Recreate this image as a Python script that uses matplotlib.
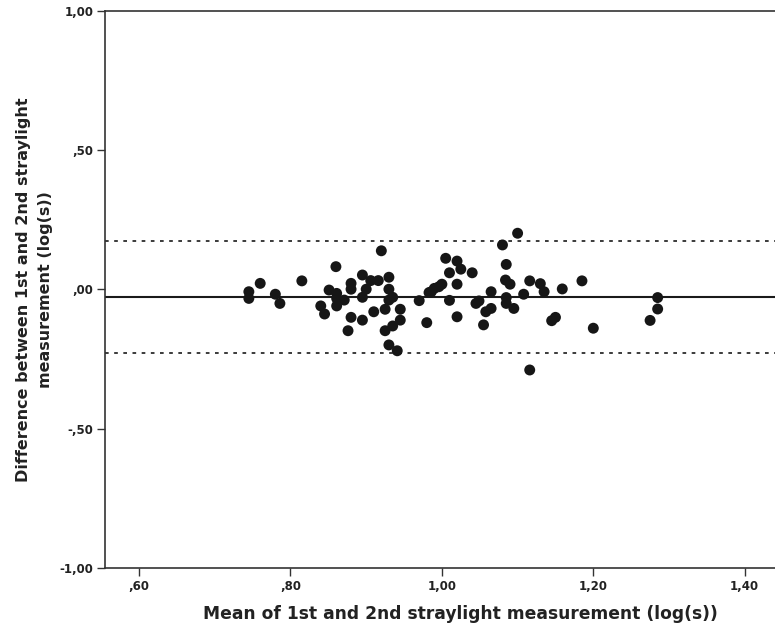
import numpy as np
import matplotlib.pyplot as plt
from matplotlib.ticker import FixedLocator, FixedFormatter

plt.rcParams['font.family'] = ['DejaVu Sans']

########### Bland-Altman data
mean_vals = [0.745, 0.745, 0.760, 0.780, 0.786, 0.815, 0.840, 0.845, 0.851, 0.860,
             0.861, 0.861, 0.861, 0.871, 0.876, 0.880, 0.880, 0.880, 0.895, 0.895,
             0.895, 0.900, 0.906, 0.910, 0.916, 0.920, 0.925, 0.925, 0.930, 0.930,
             0.930, 0.935, 0.930, 0.935, 0.941, 0.945, 0.945, 0.970, 0.980, 0.983,
             0.986, 0.990, 0.996, 1.000, 1.005, 1.010, 1.010, 1.020, 1.020, 1.020,
             1.025, 1.040, 1.045, 1.049, 1.055, 1.058, 1.065, 1.065, 1.080, 1.085,
             1.084, 1.090, 1.085, 1.085, 1.095, 1.100, 1.108, 1.116, 1.116, 1.130,
             1.135, 1.145, 1.150, 1.159, 1.185, 1.200, 1.275, 1.285, 1.285]
diff_vals = [-0.008, -0.032, 0.022, -0.017, -0.050, 0.031, -0.059, -0.088, -0.002, 0.082,
             -0.014, -0.032, -0.059, -0.038, -0.148, 0.022, 0.001, -0.100, 0.052, -0.028,
             -0.110, 0.001, 0.032, -0.080, 0.032, 0.139, -0.071, -0.148, 0.044, 0.001,
             -0.038, -0.028, -0.199, -0.131, -0.220, -0.071, -0.110, -0.040, -0.119, -0.011,
             -0.008, 0.004, 0.010, 0.019, 0.112, 0.060, -0.039, 0.102, 0.019, -0.098,
             0.073, 0.060, -0.050, -0.041, -0.127, -0.080, -0.068, -0.008, 0.160, 0.090,
             0.034, 0.019, -0.029, -0.050, -0.068, 0.202, -0.017, 0.031, -0.289, 0.021,
             -0.008, -0.112, -0.100, 0.002, 0.031, -0.139, -0.111, -0.070, -0.029]

mean_diff = -0.027
loa_upper = 0.174
loa_lower = -0.228

x_ticks = [0.6, 0.8, 1.0, 1.2, 1.4]
x_tick_labels = [',60', ',80', '1,00', '1,20', '1,40']
y_ticks = [-1.0, -0.5, 0.0, 0.5, 1.0]
y_tick_labels = ['-1,00', '-,50', ',00', ',50', '1,00']

fig = plt.figure(figsize=(7.75, 6.29), dpi=100)
ax = fig.add_axes([0.1355, 0.097, 0.8645, 0.8855])

ax.axhline(mean_diff, color='#1a1a1a', lw=1.5, zorder=1)
ax.axhline(loa_upper, color='#1a1a1a', lw=1.2, ls=(0, (2.2, 3.3)), zorder=1)
ax.axhline(loa_lower, color='#1a1a1a', lw=1.2, ls=(0, (2.2, 3.3)), zorder=1)

ax.scatter(mean_vals, diff_vals, s=62, color='#161616', edgecolors='none', zorder=3)

ax.set_xlim(0.555, 1.44)
ax.set_ylim(-1.0, 1.0)

ax.xaxis.set_major_locator(FixedLocator(x_ticks))
ax.xaxis.set_major_formatter(FixedFormatter(x_tick_labels))
ax.yaxis.set_major_locator(FixedLocator(y_ticks))
ax.yaxis.set_major_formatter(FixedFormatter(y_tick_labels))

ax.tick_params(axis='both', direction='out', length=5.5, width=1.0, color='#333333',
               labelsize=8.5, pad=3)
for lab in ax.get_xticklabels() + ax.get_yticklabels():
    lab.set_fontweight('bold')
    lab.set_color('#222222')

for side in ['left', 'bottom', 'top']:
    ax.spines[side].set_color('#333333')
    ax.spines[side].set_linewidth(1.2)
ax.spines['right'].set_visible(False)

ax.set_xlabel('Mean of 1st and 2nd straylight measurement (log(s))',
              fontsize=12.3, fontweight='bold', color='#222222')
ax.xaxis.set_label_coords(0.531, -0.066)
ax.set_ylabel('Difference between 1st and 2nd straylight\nmeasurement (log(s))',
              fontsize=11.5, fontweight='bold', color='#222222',
              linespacing=1.6)
ax.yaxis.set_label_coords(-0.078, 0.5)

fig.savefig('out.png', dpi=100)
